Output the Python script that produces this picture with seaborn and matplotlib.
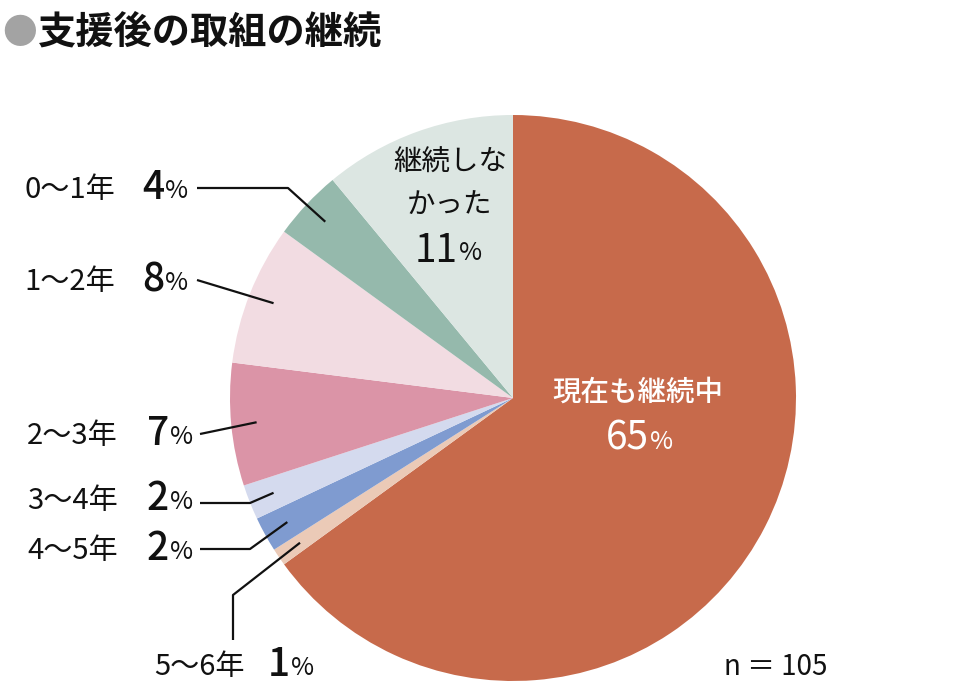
import numpy as np
import matplotlib
matplotlib.use("Agg")
import matplotlib.pyplot as plt
import seaborn as sns

# ---- data ----
categories = ["現在も継続中", "5～6年", "4～5年", "3～4年", "2～3年", "1～2年", "0～1年", "継続しなかった"]
values = [65, 1, 2, 2, 7, 8, 4, 11]
colors = ["#C76A4B", "#EBCAB7", "#7F9BD0", "#D4DAEE", "#DB94A7", "#F2DCE2", "#95B9AC", "#DCE6E2"]
n_total = 105
title = "支援後の取組の継続"

sns.set_theme(style="white")
plt.rcParams['font.family'] = ['Noto Sans CJK JP', 'DejaVu Sans']

W, H = 960, 698
fig = plt.figure(figsize=(W / 100, H / 100), dpi=100)
ax = fig.add_axes([0, 0, 1, 1])
ax.set_xlim(0, W)
ax.set_ylim(0, H)
ax.axis("off")

def Y(y):
    return H - y

cx, cy, R = 513, 398, 283
wedges, _ = ax.pie(values, colors=sns.color_palette(colors), startangle=90, counterclock=False,
                   center=(cx, Y(cy)), radius=R, wedgeprops=dict(linewidth=0))
ax.set_xlim(0, W)
ax.set_ylim(0, H)
ax.set_aspect("equal")

# title
ax.text(2, Y(33), "●", fontsize=25, color="#A3A3A3", ha="left", va="center")
ax.text(38, Y(32), title, fontsize=27.5, fontweight="bold", color="#111111", ha="left", va="center")

def inner_point(w, frac=0.91):
    th = np.deg2rad((w.theta1 + w.theta2) / 2)
    return cx + frac * R * np.cos(th), Y(cy) + frac * R * np.sin(th)

# outside labels: (index, label x, label y, number right x, elbow points)
outside = [
    (6, 24, 190, 164, [(197, 188), (288, 188)]),
    (5, 24, 282, 164, [(197, 280)]),
    (4, 27, 436, 169, [(200, 434)]),
    (3, 27, 501, 169, [(200, 503), (250, 503)]),
    (2, 27, 551, 169, [(200, 549), (250, 549)]),
    (1, 154, 667, 290, [(233, 640), (233, 595)]),
]
for idx, lx, ly, nx, pts in outside:
    ax.text(lx, Y(ly), categories[idx], fontsize=21, color="#111111", ha="left", va="center")
    ax.text(nx, Y(ly - 2), f"{values[idx]}", fontsize=28, fontweight="medium", color="#111111",
            ha="right", va="center")
    ax.text(nx + 1, Y(ly + 1), "%", fontsize=18, color="#111111", ha="left", va="center")
    xs = [p[0] for p in pts]
    ys = [Y(p[1]) for p in pts]
    ex, ey = inner_point(wedges[idx])
    xs.append(ex)
    ys.append(ey)
    ax.plot(xs, ys, color="#111111", lw=1.6, solid_capstyle="butt")

# 継続しなかった (inside)
ax.text(450, Y(163), "継続しな", fontsize=20.5, color="#111111", ha="center", va="center")
ax.text(450, Y(206), "かった", fontsize=20.5, color="#111111", ha="center", va="center")
ax.text(458, Y(251), f"{values[7]}", fontsize=28, color="#111111", ha="right", va="center")
ax.text(459, Y(253), "%", fontsize=18, color="#111111", ha="left", va="center")

# 現在も継続中 (inside)
ax.text(638, Y(392), categories[0], fontsize=20.5, fontweight="medium", color="white",
        ha="center", va="center")
ax.text(649, Y(439), f"{values[0]}", fontsize=28, color="white", ha="right", va="center")
ax.text(650, Y(442), "%", fontsize=18, color="white", ha="left", va="center")

# n
ax.text(724, Y(667), f"n ＝ {n_total}", fontsize=20, color="#111111", ha="left", va="center")

fig.savefig("out.png", dpi=100)
